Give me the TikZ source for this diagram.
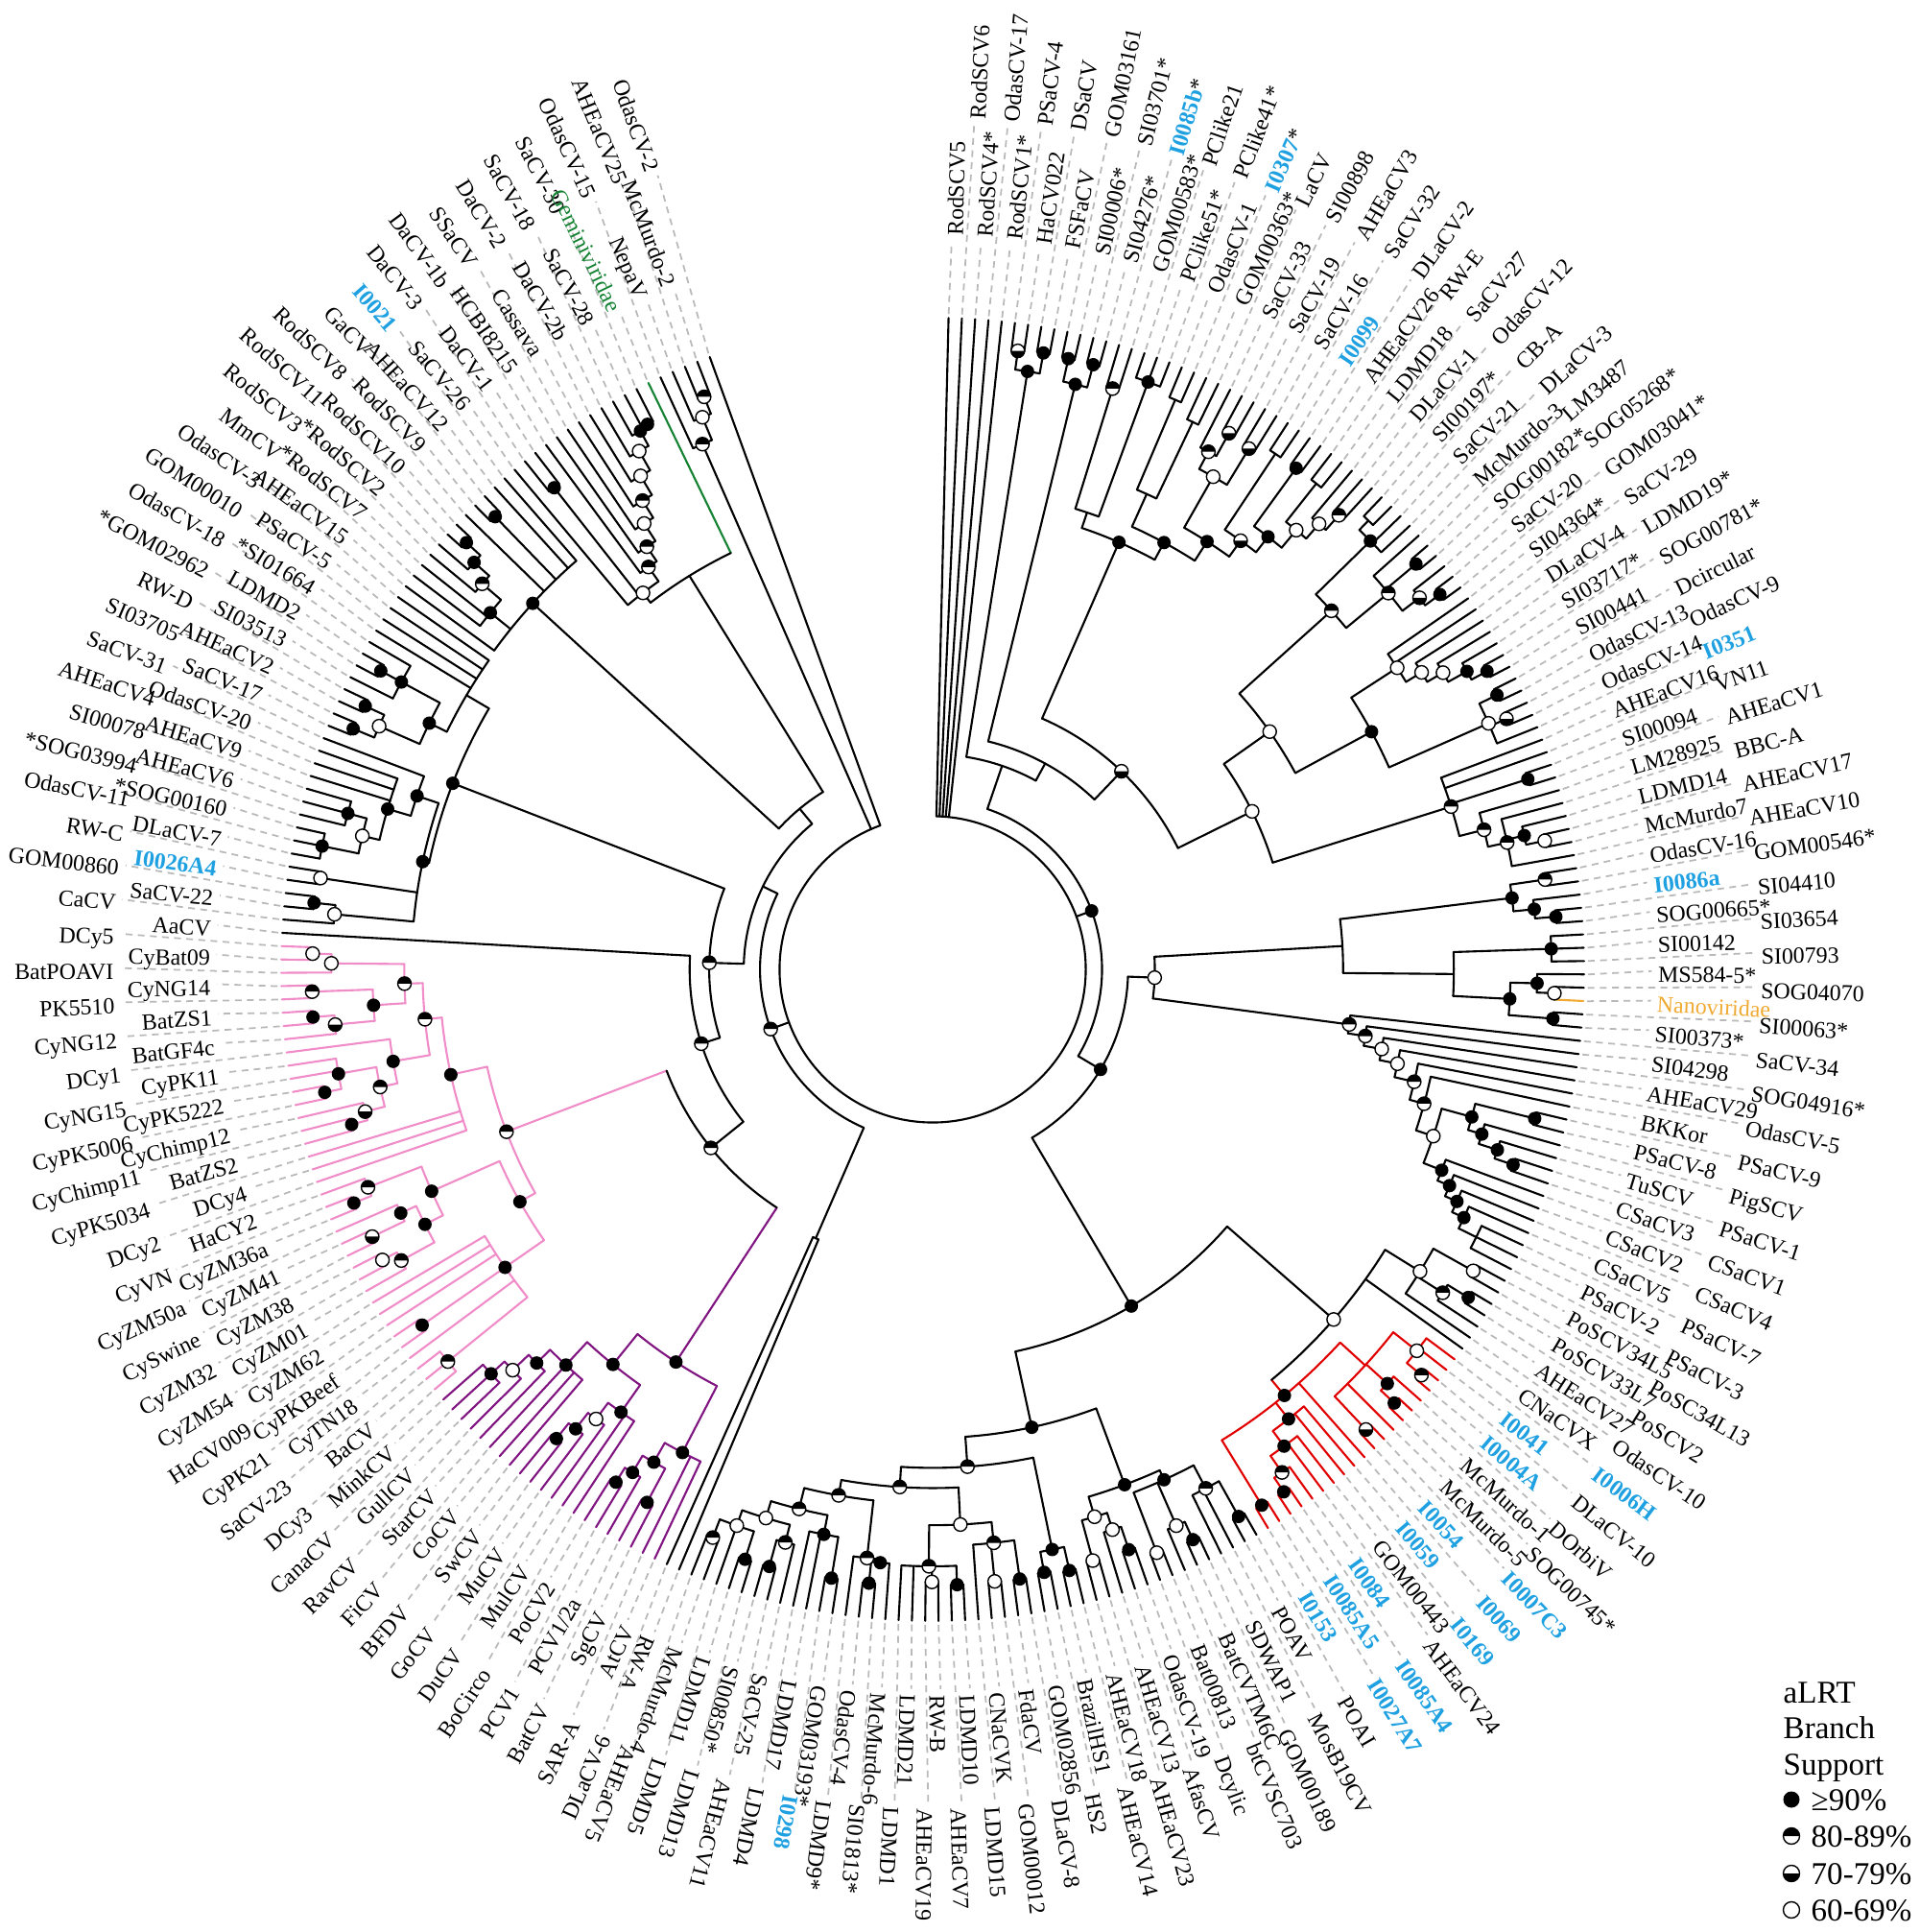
\documentclass[tikz,border=0pt]{standalone}
\usepackage{fontspec}
\setmainfont{Liberation Serif}
\usepackage{tikz}

\definecolor{lblue}{RGB}{30,160,225}
\definecolor{pinkc}{RGB}{240,140,200}
\definecolor{purc}{RGB}{128,20,128}
\definecolor{redc}{RGB}{225,0,0}
\definecolor{greenc}{RGB}{20,130,50}
\definecolor{orangec}{RGB}{240,170,50}
\definecolor{dashgray}{RGB}{185,185,185}

\newcommand\tipR{6.79}
\newcommand\dA{1.1716}
\newcommand\mrad{0.07}
\newcommand\brc{black}
\newcommand\supmarks{}
\newcommand\bl[1]{\textcolor{lblue}{\bfseries #1}}

% support symbol: f >=90, h 80-89, l 70-79, o 60-69, n none
\newcommand\mk[2]{%
  \ifx#1n\else
  \begin{scope}[shift={#2}]
    \if#1f\fill (0,0) circle (\mrad);
    \else
      \fill[white] (0,0) circle (\mrad);
      \if#1h\fill (\mrad,0) arc[start angle=0,end angle=180,radius=\mrad] -- cycle;\fi
      \if#1l\fill (\mrad,0) arc[start angle=0,end angle=-180,radius=\mrad] -- cycle;\fi
      \draw[line width=0.4pt] (0,0) circle (\mrad);
    \fi
  \end{scope}\fi}

% clade: name, radius (fraction of tip radius), support, children
\newcommand\nd[4]{%
  \pgfmathsetmacro\ndr{#2*\tipR}%
  \gdef\amin{1000}\gdef\amax{-1000}%
  \foreach \ch in {#4}{%
    \edef\cha{\csname ta@\ch\endcsname}%
    \edef\chr{\csname tr@\ch\endcsname}%
    \edef\chc{\csname tc@\ch\endcsname}%
    \draw[br, draw=\chc] (\cha:\ndr) -- (\cha:\chr);%
    \pgfmathsetmacro\ndt{min(\amin,\cha)}\xdef\amin{\ndt}%
    \pgfmathsetmacro\ndt{max(\amax,\cha)}\xdef\amax{\ndt}%
  }%
  \draw[br, draw=\brc] (\amax:\ndr) arc[start angle=\amax, end angle=\amin, radius=\ndr];%
  \pgfmathsetmacro\ndt{(\amin+\amax)/2}%
  \expandafter\xdef\csname ta@#1\endcsname{\ndt}%
  \expandafter\xdef\csname tr@#1\endcsname{\ndr}%
  \expandafter\xdef\csname tc@#1\endcsname{\brc}%
  \xdef\supmarks{\unexpanded\expandafter{\supmarks}\noexpand\mk{#3}{(\ndt:\ndr)}}%
}

\begin{document}
\begin{tikzpicture}[
  br/.style={line width=0.6pt, line cap=round, line join=round},
  dsh/.style={draw=dashgray, line width=0.5pt, dash pattern=on 2pt off 1.6pt},
  lab/.style={font=\fontsize{6.8}{8}\selectfont, inner sep=0pt, text height=0.66em, text depth=0pt},
  leg/.style={font=\fontsize{9.4}{11}\selectfont, inner sep=0pt, text height=0.66em, text depth=0pt}]
\useasboundingbox (-9.72,-10.03) rectangle (10.28,10.10);

% leaves
\foreach \i in {1,...,290}{%
  \pgfmathsetmacro\la{88.6-(\i-1)*\dA}%
  \expandafter\xdef\csname ta@\i\endcsname{\la}%
  \expandafter\xdef\csname tr@\i\endcsname{\tipR}%
  \expandafter\xdef\csname tc@\i\endcsname{black}%
}
\foreach \i in {108,...,127}{\expandafter\xdef\csname tc@\i\endcsname{redc}}
\foreach \i in {175,...,195}{\expandafter\xdef\csname tc@\i\endcsname{purc}}
\foreach \i in {196,...,232}{\expandafter\xdef\csname tc@\i\endcsname{pinkc}}
\expandafter\xdef\csname tc@79\endcsname{orangec}
\expandafter\xdef\csname tc@285\endcsname{greenc}

% top
\nd{a67}{.958}{l}{6,7}
\nd{a89}{.961}{f}{8,9}
\nd{a6}{.929}{f}{a67,a89}
\nd{b1011}{.96}{f}{10,11}
\nd{b1213}{.96}{f}{12,13}
\nd{b10}{.924}{f}{b1011,b1213}

% upper right
\nd{c14}{.933}{h}{14,15}
\nd{c16}{.96}{f}{16,17,18}
\nd{c1}{.74}{n}{c14,c16}
\nd{d19}{.95}{n}{19,20}
\nd{d21}{.93}{n}{21,22}
\nd{dA}{.80}{n}{d19,d21}
\nd{d2425}{.94}{l}{24,25}
\nd{d23}{.90}{h}{23,d2425}
\nd{d2627}{.935}{l}{26,27}
\nd{d22}{.87}{o}{d23,d2627}
\nd{d2829}{.95}{n}{28,29}
\nd{d3031}{.95}{f}{30,31}
\nd{d3233}{.95}{n}{32,33}
\nd{R8}{.935}{h}{35,36}
\nd{R7}{.905}{o}{34,R8}
\nd{R6}{.875}{o}{d3233,R7}
\nd{R5}{.84}{f}{d3031,R6}
\nd{R4}{.81}{l}{d2829,R5}
\nd{R3}{.78}{f}{d22,R4}
\nd{R2}{.745}{f}{dA,R3}
\nd{R1}{.715}{f}{c1,R2}
\nd{e3738}{.96}{n}{37,38}
\nd{e39}{.94}{f}{e3738,39,40}
\nd{e4243}{.968}{f}{42,43}
\nd{e4546}{.968}{f}{45,46}
\nd{e44}{.94}{l}{44,e4546}
\nd{e41}{.907}{h}{41,e4243,e44}
\nd{e37}{.823}{h}{e39,e41}
\nd{g5253}{.966}{f}{52,53}
\nd{g51}{.939}{f}{51,g5253}
\nd{g50}{.906}{o}{50,g51}
\nd{g49}{.878}{o}{49,g50}
\nd{g48}{.85}{o}{47,48,g49}
\nd{g5455}{.963}{f}{54,55}
\nd{g5657}{.961}{l}{56,57}
\nd{g54}{.933}{o}{g5455,g5657,58}
\nd{g47}{.766}{f}{g48,g54}
\nd{TRa}{.633}{o}{e37,g47}
\nd{Q1c}{.959}{f}{61,62}
\nd{Q5}{.96}{o}{66,67}
\nd{Q4}{.931}{f}{65,Q5}
\nd{Q3}{.903}{h}{64,Q4,68}
\nd{Q2}{.873}{h}{63,Q3}
\nd{Q0}{.834}{h}{59,60,Q1c,Q2}
\nd{Qn}{.547}{o}{TRa,Q0}
\nd{TRb}{.42}{l}{R1,Qn}

% right
\nd{q1}{.95}{h}{69,70}
\nd{q1b}{.96}{f}{72,73}
\nd{q2}{.928}{f}{71,q1b}
\nd{q4}{.896}{f}{q1,q2}
\nd{q7}{.95}{f}{74,75,76}
\nd{q5}{.955}{o}{78,79}
\nd{q6}{.928}{f}{77,q5}
\nd{q10}{.955}{f}{80,81}
\nd{q8}{.887}{f}{q6,q10}
\nd{q11}{.80}{n}{q7,q8}
\nd{q9}{.63}{n}{q4,q11}
\nd{sAc}{.952}{f}{88,89}
\nd{sA3}{.94}{f}{92,93}
\nd{sA2}{.91}{f}{91,sA3}
\nd{sA1}{.88}{f}{90,sA2}
\nd{sA}{.858}{f}{sAc,sA1}
\nd{sB5}{.93}{n}{98,99,100}
\nd{sB4}{.90}{f}{97,sB5}
\nd{sB3}{.88}{f}{96,sB4}
\nd{sB2}{.86}{f}{95,sB3}
\nd{sB1}{.84}{f}{94,sB2}
\nd{s7}{.81}{o}{sA,sB1}
\nd{s6}{.782}{h}{87,s7}
\nd{s5}{.759}{h}{86,s6}
\nd{s4}{.728}{o}{85,s5}
\nd{s3}{.70}{o}{84,s4}
\nd{s2}{.672}{h}{83,s3}
\nd{s1}{.645}{h}{82,s2}

% lower right, red clade
\nd{u1}{.95}{o}{101,102}
\nd{u2}{.964}{f}{103,104}
\nd{u3}{.927}{h}{u2,105}
\nd{u4}{.88}{o}{u1,u3,106}
\gdef\brc{redc}
\nd{rA1}{.975}{h}{110,111}
\nd{rA}{.946}{o}{108,109,rA1}
\nd{rB1}{.972}{f}{113,114}
\nd{rB}{.944}{f}{112,rB1}
\nd{rC}{.97}{l}{116,117}
\nd{rU}{.90}{n}{rA,rB,115,rC}
\nd{rL4}{.966}{f}{124,125}
\nd{rL3}{.94}{h}{123,rL4}
\nd{rL2}{.909}{f}{121,122,rL3}
\nd{rL1}{.88}{f}{119,120,rL2}
\nd{rL5}{.965}{f}{126,127}
\nd{RD}{.848}{f}{rU,118,rL1,rL5}
\gdef\brc{black}
\nd{U}{.817}{o}{u4,107,RD}
\nd{w1}{.962}{f}{128,129}
\nd{w3}{.90}{h}{w1,130,131}
\nd{w4}{.962}{f}{132,133}
\nd{w5}{.932}{o}{w4,134}
\nd{w6}{.959}{o}{135,136}
\nd{w7}{.86}{f}{w3,w5,w6}
\nd{w8}{.94}{f}{137,138}
\nd{w9}{.903}{o}{w8,139}
\nd{w10}{.94}{o}{140,141}
\nd{w11}{.876}{o}{w9,w10}
\nd{w12}{.844}{f}{w7,w11}

% bottom
\nd{v1}{.946}{f}{142,143}
\nd{v2}{.941}{f}{144,145}
\nd{v3}{.909}{f}{v1,v2}
\nd{v4}{.945}{f}{146,147}
\nd{v5}{.944}{o}{148,149}
\nd{v6}{.885}{h}{v4,v5,150}
\nd{v7}{.945}{f}{151,152}
\nd{v8}{.94}{o}{153,154}
\nd{v9}{.916}{h}{v7,v8,155,156}
\nd{v10}{.853}{o}{v6,v9}
\nd{v11}{.947}{f}{158,159}
\nd{v12}{.914}{f}{157,v11}
\nd{v13}{.909}{h}{v12,160}
\nd{v14}{.947}{f}{161,162}
\nd{v15}{.883}{f}{v14,163,164}
\nd{v16}{.95}{f}{166,167}
\nd{v18}{.908}{h}{165,v16}
\nd{v17}{.95}{f}{168,169}
\nd{v25}{.935}{h}{171,172}
\nd{v19}{.905}{o}{v17,170,v25}
\nd{v20}{.88}{o}{v18,v19}
\nd{v21}{.853}{h}{v15,v20}
\nd{v22}{.82}{h}{v13,v21}
\nd{v23}{.796}{h}{v10,v22}
\nd{v24}{.765}{h}{v3,v23}
\nd{X1}{.719}{f}{w12,v24}
\nd{LR}{.60}{f}{U,X1}

% purple clade
\gdef\brc{purc}
\nd{pA4}{.925}{f}{180,181}
\nd{pA3}{.899}{f}{179,pA4}
\nd{pA3b}{.928}{f}{177,178}
\nd{pA2}{.869}{f}{pA3b,pA3}
\nd{pA1}{.835}{f}{175,176,pA2}
\nd{pB4}{.923}{f}{186,187}
\nd{pB3}{.893}{f}{185,pB4}
\nd{pB2}{.862}{o}{184,pB3}
\nd{pB1}{.831}{f}{182,183,pB2}
\nd{pC4}{.919}{f}{193,194,195}
\nd{pC3}{.891}{o}{192,pC4}
\nd{pC2}{.857}{f}{191,pC3}
\nd{pC1}{.828}{f}{188,189,190,pC2}
\nd{pBC}{.78}{f}{pB1,pC1}
\nd{pR}{.72}{f}{pA1,pBC}

% pink clade
\gdef\brc{pinkc}
\nd{k25}{.957}{h}{196,197,198}
\nd{k24}{.955}{f}{200,201}
\nd{k26}{.80}{f}{k25,199,k24,202,203,204}
\nd{k20}{.955}{o}{206,207}
\nd{k21}{.93}{h}{205,k20}
\nd{k18}{.953}{l}{208,209}
\nd{k19}{.898}{f}{k18,210}
\nd{k22}{.872}{f}{k21,k19}
\nd{k16}{.958}{f}{211,212}
\nd{k17}{.929}{h}{k16,213}
\nd{k23}{.841}{f}{k22,k17}
\nd{k27}{.727}{f}{k26,k23}
\nd{k10}{.923}{f}{217,218}
\nd{k11}{.898}{l}{k10,219}
\nd{k8}{.952}{f}{220,221}
\nd{k9}{.926}{f}{k8,222,223}
\nd{k12}{.867}{h}{k11,k9}
\nd{k13}{.84}{f}{k12,224}
\nd{k4}{.954}{f}{226,227}
\nd{k5}{.921}{l}{225,k4}
\nd{k3}{.953}{h}{228,229}
\nd{k6}{.86}{f}{k5,k3}
\nd{k1}{.952}{o}{231,232}
\nd{k2}{.923}{o}{230,k1}
\nd{k7}{.811}{h}{k6,k2}
\nd{k14}{.783}{h}{k13,k7}
\nd{k15}{.757}{f}{214,215,216,k14}
\nd{kR}{.70}{h}{k27,k15}
\gdef\brc{black}
\nd{PP}{.437}{h}{pR,kR}

% left
\nd{L1}{.955}{f}{235,236}
\nd{L2}{.922}{o}{234,L1}
\nd{L3}{.95}{o}{237,238}
\nd{L4a}{.956}{f}{239,240,241}
\nd{L4b}{.929}{f}{242,243,244}
\nd{L4c}{.899}{o}{L4a,L4b}
\nd{L4d}{.872}{f}{L4c,245,246,247}
\nd{L4e}{.835}{f}{L4d,248}
\nd{L5a}{.963}{f}{249,250}
\nd{L5b}{.96}{f}{251,252}
\nd{L5c}{.928}{o}{L5a,L5b}
\nd{L5d}{.963}{f}{254,255}
\nd{L5e}{.927}{f}{253,L5d,256}
\nd{L5f}{.86}{f}{L5c,L5e}
\nd{LA}{.80}{f}{L2,L3,L4e}
\nd{LB}{.83}{n}{L5f,257,258,259,260}
\nd{LC}{.79}{f}{LA,LB}
\nd{y1}{.966}{f}{269,270}
\nd{y2}{.97}{f}{266,267}
\nd{y3}{.941}{f}{265,y2}
\nd{y4}{.91}{h}{264,y3}
\nd{y5}{.872}{f}{262,263,y4}
\nd{y6}{.832}{f}{261,y5,268,y1,271,272}

% upper left
\nd{z1}{.944}{f}{283,284}
\nd{z2}{.94}{f}{282,z1}
\nd{z3}{.914}{o}{281,z2}
\nd{z4}{.88}{o}{280,z3}
\nd{z5}{.846}{h}{279,z4}
\nd{z6}{.815}{o}{278,z5}
\nd{z7}{.783}{h}{277,z6}
\nd{z8}{.756}{h}{276,z7}
\nd{z10}{.94}{f}{274,275}
\nd{z9}{.729}{o}{273,z10,z8}
\nd{gN}{.71}{n}{z9,285}
\nd{tA}{.946}{h}{288,289}
\nd{tB}{.918}{o}{287,tA}
\nd{tC}{.88}{h}{286,tB}

% backbone
\nd{Ntop2}{.36}{n}{b10,TRb}
\nd{Ntop}{.33}{n}{a6,Ntop2}
\nd{Nq}{.341}{o}{q9,s1}
\nd{D1d}{.30}{f}{Nq,LR}
\nd{D1}{.26}{f}{Ntop,D1d}
\nd{D2c}{.373}{h}{PP,233}
\nd{D2d}{.343}{h}{D2c,LC}
\nd{D2e}{.32}{n}{y6,gN}
\nd{D2b}{.29}{n}{D2d,D2e}
\nd{D2a}{.45}{n}{173,174}
\nd{D2}{.265}{h}{D2a,D2b}
\nd{root}{.235}{n}{1,2,3,4,5,D1,D2,tC,290}

% labels
\foreach \lab [count=\i] in {RodSCV5,RodSCV6,RodSCV4*,OdasCV-17,RodSCV1*,PSaCV-4,HaCV022,DSaCV,FSFaCV,GOM03161,
 SI00006*,SI03701*,SI04276*,{\bl{I0085b}*},GOM00583*,PClike21,PClike51*,PClike41*,OdasCV-1,{\bl{I0307}*},
 GOM00363*,LaCV,SaCV-33,SI00898,SaCV-19,AHEaCV3,SaCV-16,SaCV-32,{\bl{I0099}},DLaCV-2,
 AHEaCV26,RW-E,LDMD18,SaCV-27,DLaCV-1,OdasCV-12,SI00197*,CB-A,SaCV-21,DLaCV-3,
 McMurdo-3,LM3487,SOG00182*,SOG05268*,SaCV-20,GOM03041*,SI04364*,SaCV-29,DLaCV-4,LDMD19*,
 SI03717*,SOG00781*,SI00441,Dcircular,OdasCV-13,OdasCV-9,OdasCV-14,{\bl{I0351}},AHEaCV16,VN11,
 SI00094,AHEaCV1,LM28925,BBC-A,LDMD14,AHEaCV17,McMurdo7,AHEaCV10,OdasCV-16,GOM00546*,
 {\bl{I0086a}},SI04410,SOG00665*,SI03654,SI00142,SI00793,MS584-5*,SOG04070,{\textcolor{orangec}{Nanoviridae}},SI00063*,
 SI00373*,SaCV-34,SI04298,SOG04916*,AHEaCV29,OdasCV-5,BKKor,PSaCV-9,PSaCV-8,PigSCV,
 TuSCV,PSaCV-1,CSaCV3,CSaCV1,CSaCV2,CSaCV4,CSaCV5,PSaCV-7,PSaCV-2,PSaCV-3,
 PoSCV34L5,PoSC34L13,PoSCV33L7,PoSCV2,AHEaCV27,OdasCV-10,CNaCVX,{\bl{I0006H}},{\bl{I0041}},DLaCV-10,
 {\bl{I0004A}},DOrbiV,McMurdo-1,SOG00745*,McMurdo-5,{\bl{I0007C3}},{\bl{I0054}},{\bl{I0069}},{\bl{I0059}},{\bl{I0169}},
 GOM00443,AHEaCV24,{\bl{I0084}},{\bl{I0085A4}},{\bl{I0085A5}},{\bl{I0027A7}},{\bl{I0153}},POAI,POAV,MosB19CV,
 SDWAP1,GOM00189,BatCVTM6C,btCVSC703,Bat00813,Dcylic,OdasCV-19,AfasCV,AHEaCV13,AHEaCV23,
 AHEaCV18,AHEaCV14,BrazilHS1,HS2,GOM02856,DLaCV-8,FdaCV,GOM00012,CNaCVK,LDMD15,
 LDMD10,AHEaCV7,RW-B,AHEaCV19,LDMD21,LDMD1,McMurdo-6,SI01813*,OdasCV-4,LDMD9*,
 GOM03193*,{\bl{I0298}},LDMD17,LDMD4,SaCV-25,AHEaCV11,SI00850*,LDMD13,LDMD11,LDMD5,
 McMurdo-4,AHEaCV5,RW-A,DLaCV-6,AtCV,SAR-A,SgCV,BatCV,PCV1/2a,PCV1,
 PoCV2,BoCirco,MulCV,DuCV,MuCV,GoCV,SwCV,BFDV,CoCV,FiCV,
 StarCV,RavCV,GullCV,CanaCV,MinkCV,DCy3,BaCV,SaCV-23,CyTN18,CyPK21,
 CyPKBeef,HaCV009,CyZM62,CyZM54,CyZM01,CyZM32,CyZM38,CySwine,CyZM41,CyZM50a,
 CyZM36a,CyVN,HaCY2,DCy2,DCy4,CyPK5034,BatZS2,CyChimp11,CyChimp12,CyPK5006,
 CyPK5222,CyNG15,CyPK11,DCy1,BatGF4c,CyNG12,BatZS1,PK5510,CyNG14,BatPOAVI,
 CyBat09,DCy5,AaCV,CaCV,SaCV-22,GOM00860,{\bl{I0026A4}},RW-C,DLaCV-7,OdasCV-11,
 *SOG00160,*SOG03994,AHEaCV6,SI00078,AHEaCV9,AHEaCV4,OdasCV-20,SaCV-31,SaCV-17,SI03705,
 AHEaCV2,RW-D,SI03513,*GOM02962,LDMD2,OdasCV-18,*SI01664,GOM00010,PSaCV-5,OdasCV-3,
 AHEaCV15,MmCV,*RodSCV7,RodSCV3,*RodSCV2,RodSCV11,RodSCV10,RodSCV8,RodSCV9,GaCV,
 AHEaCV12,{\bl{I0021}},SaCV-26,DaCV-3,DaCV-1,DaCV-1b,HCBI8215,SSaCV,Cassava,DaCV-2,
 DaCV-2b,SaCV-18,SaCV-28,SaCV-30,{\textcolor{greenc}{Geminiviridae}},OdasCV-15,NepaV,AHEaCV25,McMurdo-2,OdasCV-2}{%
  \pgfmathsetmacro\la{88.6-(\i-1)*\dA}%
  \ifodd\i
    \pgfmathsetmacro\lx{0.015+7.54*cos(\la)}\pgfmathsetmacro\ly{0.04+7.60*sin(\la)}%
  \else
    \pgfmathsetmacro\lx{0.05+8.58*cos(\la)}\pgfmathsetmacro\ly{0.06+8.80*sin(\la)}%
  \fi
  \pgfmathsetmacro\ex{\lx-0.06*cos(\la)}\pgfmathsetmacro\ey{\ly-0.06*sin(\la)}%
  \draw[dsh] (\la:6.83) -- (\ex,\ey);
  \ifnum\i<174
    \node[lab, anchor=west, rotate=\la] (t\i) at (\lx,\ly) {\lab};
  \else
    \pgfmathsetmacro\lb{\la+180}%
    \node[lab, anchor=east, rotate=\lb] (t\i) at (\lx,\ly) {\lab};
  \fi
}

% support symbols
\supmarks

% legend
\node[leg, anchor=west] (lgA) at (8.86,-7.53) {aLRT};
\node[leg, anchor=west] (lgB) at (8.86,-7.90) {Branch};
\node[leg, anchor=west] (lgC) at (8.86,-8.28) {Support};
\renewcommand\mrad{0.085}
\mk{f}{(8.95,-8.65)}
\mk{h}{(8.95,-9.03)}
\mk{l}{(8.95,-9.42)}
\mk{o}{(8.95,-9.80)}
\node[leg, anchor=west] (lg1) at (9.15,-8.65) {≥90\%};
\node[leg, anchor=west] (lg2) at (9.15,-9.03) {80-89\%};
\node[leg, anchor=west] (lg3) at (9.15,-9.42) {70-79\%};
\node[leg, anchor=west] (lg4) at (9.15,-9.80) {60-69\%};
\end{tikzpicture}
\end{document}
